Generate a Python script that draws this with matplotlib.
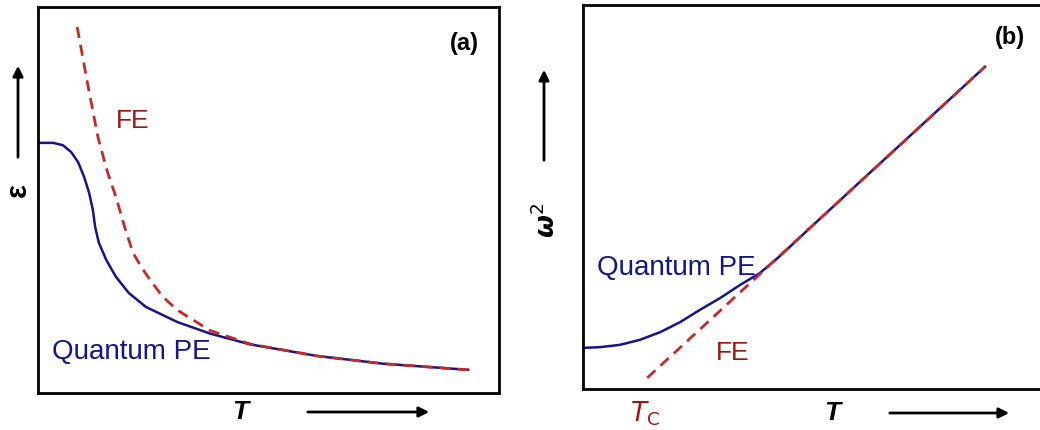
import matplotlib
matplotlib.use("Agg")
import matplotlib.pyplot as plt

plt.rcParams["font.family"] = ["Liberation Sans", "DejaVu Sans"]

W, H = 1040, 430

# Panel (a): dielectric constant vs T (arbitrary units 0-100)
qpe_a_T = [0, 3.3, 5.4, 7.2, 8.7, 10.0, 11.1, 11.9, 12.4, 13.2, 14.8, 16.9,
           19.7, 23.4, 30.2, 37.3, 46.0, 60.5, 74.8, 93.3]
qpe_a_eps = [64.8, 64.8, 64.2, 62.4, 59.8, 56.0, 51.8, 47.4, 43.0, 38.9, 34.5,
             30.1, 25.9, 22.3, 18.4, 15.4, 12.6, 9.6, 7.6, 6.0]
fe_a_T = [8.5, 10.6, 13.0, 15.0, 16.9, 18.8, 20.6, 22.8, 24.5, 27.0, 30.2,
          37.3, 46.0, 60.5, 74.8, 93.3]
fe_a_eps = [94.8, 81.1, 66.3, 57.5, 50.8, 43.0, 36.3, 31.9, 29.0, 25.0, 21.5,
            16.2, 12.7, 9.6, 7.6, 6.0]

# Panel (b): soft-mode frequency squared vs T
qpe_b_T = [0, 3.7, 8.0, 12.3, 16.7, 21.0, 25.3, 29.7, 34.0, 38.3, 42.6,
           50.0, 60.0, 75.0, 87.0]
qpe_b_w2 = [10.7, 10.9, 11.5, 12.8, 14.8, 17.4, 20.6, 23.7, 27.1, 30.2, 34.6,
            42.9, 54.0, 70.6, 83.9]
fe_b_T = [13.9, 87.0]
fe_b_w2 = [2.9, 83.9]
TC = 11.5

BLUE = "#14148c"
RED = "#c42a2a"
DARKRED = "#a01414"


def fx(px):
    return px / W


def fy(py):
    return 1 - py / H


def arrow(fig, x0, y0, x1, y1):
    fig.add_artist(matplotlib.patches.FancyArrowPatch(
        (fx(x0), fy(y0)), (fx(x1), fy(y1)), transform=fig.transFigure,
        arrowstyle="-|>,head_length=6,head_width=3", color="black",
        lw=2, mutation_scale=1))


def setup(ax):
    ax.set_xlim(0, 100)
    ax.set_ylim(0, 100)
    ax.set_xticks([])
    ax.set_yticks([])
    for s in ax.spines.values():
        s.set_linewidth(2)
        s.set_color("black")


fig = plt.figure(figsize=(W / 100, H / 100), dpi=100)
ax1 = fig.add_axes([fx(38), fy(393), 461 / W, 386 / H])
ax2 = fig.add_axes([fx(583), fy(389), 462 / W, 384 / H])
setup(ax1)
setup(ax2)

# (a)
ax1.plot(qpe_a_T, qpe_a_eps, color=BLUE, lw=1.8, solid_joinstyle="round")
ax1.plot(fe_a_T, fe_a_eps, color=RED, lw=2, ls=(0, (4, 2.5)))
ax1.text(20.5, 70.5, "FE", color=DARKRED, fontsize=19, ha="center", va="center")
ax1.text(3, 10.5, "Quantum PE", color=BLUE, fontsize=20, ha="left", va="center")
ax1.text(92.5, 90.5, "(a)", fontsize=17, fontweight="bold", ha="center", va="center")

# (b)
ax2.plot(qpe_b_T, qpe_b_w2, color=BLUE, lw=1.8, solid_joinstyle="round")
ax2.plot(fe_b_T, fe_b_w2, color=RED, lw=2, ls=(0, (4, 2.5)))
ax2.text(3, 31.5, "Quantum PE", color=BLUE, fontsize=20, ha="left", va="center")
ax2.text(32.5, 9.5, "FE", color=DARKRED, fontsize=19, ha="center", va="center")
ax2.text(92.5, 91.5, "(b)", fontsize=17, fontweight="bold", ha="center", va="center")
ax2.text(TC + 2, -6.5, r"$T_{\mathrm{C}}$", color=DARKRED, fontsize=19,
         ha="center", va="center", clip_on=False,
         math_fontfamily="dejavusans")

# axis labels and arrows
fig.text(fx(18), fy(190), "ε", fontsize=21, fontweight="bold", rotation=90,
         ha="center", va="center")
arrow(fig, 18, 160, 18, 63)
fig.text(fx(240), fy(412), "T", fontsize=19, fontweight="bold", style="italic",
         ha="center", va="center")
arrow(fig, 305, 412, 432, 412)

fig.text(fx(546), fy(220), r"$\boldsymbol{\omega}^{2}$", fontsize=19,
         rotation=90, ha="center", va="center", math_fontfamily="dejavusans")
arrow(fig, 544, 163, 544, 67)
fig.text(fx(832), fy(413), "T", fontsize=19, fontweight="bold", style="italic",
         ha="center", va="center")
arrow(fig, 887, 413, 1012, 413)

fig.savefig("out.png", dpi=100)
